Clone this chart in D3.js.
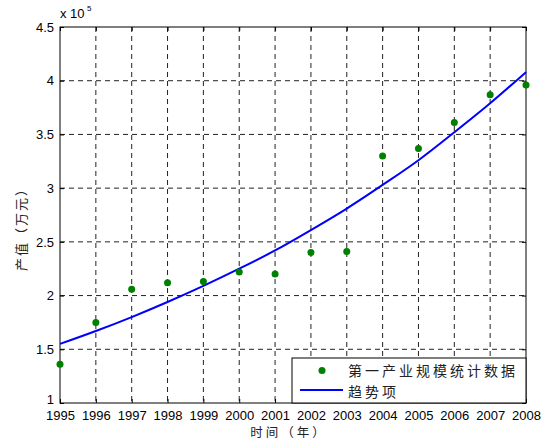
<!DOCTYPE html>
<html><head><meta charset="utf-8">
<script src="https://cdn.jsdelivr.net/npm/d3@7"></script>
<style>body{margin:0;background:#fff}</style>
</head><body>
<svg id="c" width="541" height="441"></svg>
<script>
const years = [1995,1996,1997,1998,1999,2000,2001,2002,2003,2004,2005,2006,2007,2008];
const dataValues = [1.36,1.75,2.06,2.12,2.13,2.22,2.20,2.40,2.41,3.30,3.37,3.61,3.87,3.96];
const trendValues = [1.55,1.67,1.80,1.94,2.09,2.25,2.42,2.61,2.81,3.03,3.26,3.52,3.79,4.08];
const yTicks = [1,1.5,2,2.5,3,3.5,4,4.5];
const yTickLabels = ["1","1.5","2","2.5","3","3.5","4","4.5"];
const legendLabels = ["第一产业规模统计数据","趋势项"];
const xTitle = "时间（年）", yTitle = "产值（万元）";

const svg = d3.select("#c");
const L=60,R=526,T=27,B=403;
const x = d3.scaleLinear().domain([1995,2008]).range([L,R]);
const y = d3.scaleLinear().domain([1,4.5]).range([B,T]);
const font = "'Liberation Sans', Arial, sans-serif";
const cjk = "'Noto Sans CJK SC', sans-serif";

// grid
const g = svg.append("g");
g.selectAll("line.gx").data(years.slice(1,-1)).join("line")
  .attr("x1",d=>x(d)).attr("x2",d=>x(d)).attr("y1",T).attr("y2",B)
  .attr("stroke","#222").attr("stroke-dasharray","5,4").attr("stroke-width",1);
g.selectAll("line.gy").data(yTicks.slice(1,-1)).join("line")
  .attr("y1",d=>y(d)).attr("y2",d=>y(d)).attr("x1",L).attr("x2",R)
  .attr("stroke","#222").attr("stroke-dasharray","5,4").attr("stroke-width",1);

// axes
const ax = d3.axisBottom(x).tickValues(years).tickFormat(d3.format("d")).tickSize(-4).tickPadding(7.5);
svg.append("g").attr("transform",`translate(0,${B})`).call(ax)
  .call(s=>s.select(".domain").remove())
  .call(s=>s.selectAll("text").attr("font-family",font).attr("font-size",13).attr("fill","#000"));
const ay = d3.axisLeft(y).tickValues(yTicks).tickFormat((d,i)=>yTickLabels[i]).tickSize(-4).tickPadding(6);
svg.append("g").attr("transform",`translate(${L},0)`).call(ay)
  .call(s=>s.select(".domain").remove())
  .call(s=>s.selectAll("text").attr("font-family",font).attr("font-size",13).attr("fill","#000")
    .attr("dy",(d)=>d===1?"0.05em":"0.32em"));
svg.append("g").attr("transform",`translate(0,${T})`).call(d3.axisTop(x).tickValues(years).tickSize(-4).tickFormat(""))
  .call(s=>s.select(".domain").remove());
svg.append("g").attr("transform",`translate(${R},0)`).call(d3.axisRight(y).tickValues(yTicks).tickSize(-4).tickFormat(""))
  .call(s=>s.select(".domain").remove());
svg.append("rect").attr("x",L).attr("y",T).attr("width",R-L).attr("height",B-T)
  .attr("fill","none").attr("stroke","#000").attr("stroke-width",1);

// trend line
svg.append("path").datum(years.map((d,i)=>[d,trendValues[i]]))
  .attr("d",d3.line().x(d=>x(d[0])).y(d=>y(d[1])).curve(d3.curveMonotoneX))
  .attr("fill","none").attr("stroke","#0000ff").attr("stroke-width",2);
// points
svg.selectAll("circle.p").data(years).join("circle")
  .attr("cx",d=>x(d)).attr("cy",(d,i)=>y(dataValues[i])).attr("r",3.5).attr("fill","#008000");

// exponent
svg.append("text").attr("x",60).attr("y",18).attr("font-family",font).attr("font-size",13).text("x 10");
svg.append("text").attr("x",87).attr("y",11).attr("font-family",font).attr("font-size",8).text("5");

// titles
svg.append("text").attr("x",289).attr("y",437).attr("text-anchor","middle")
  .attr("font-family",cjk).attr("font-size",12.5).attr("letter-spacing","3px").attr("fill","#222").text(xTitle);
svg.append("text").attr("transform","translate(26,226) rotate(-90)").attr("text-anchor","middle")
  .attr("font-family",cjk).attr("font-size",13).attr("letter-spacing","2px").attr("fill","#222").text(yTitle);

// legend
const lg = svg.append("g");
lg.append("rect").attr("x",292).attr("y",358).attr("width",R-292).attr("height",B-358)
  .attr("fill","#fff").attr("stroke","#000").attr("stroke-width",1);
lg.append("circle").attr("cx",322).attr("cy",370.5).attr("r",3.5).attr("fill","#008000");
lg.append("line").attr("x1",300).attr("x2",343).attr("y1",390).attr("y2",390).attr("stroke","#0000ff").attr("stroke-width",2);
lg.selectAll("text.l").data(legendLabels).join("text")
  .attr("x",348).attr("y",(d,i)=>376+i*20.5).attr("font-family",cjk).attr("font-size",14)
  .attr("letter-spacing","3px").attr("fill","#222").text(d=>d);
</script>
</body></html>
